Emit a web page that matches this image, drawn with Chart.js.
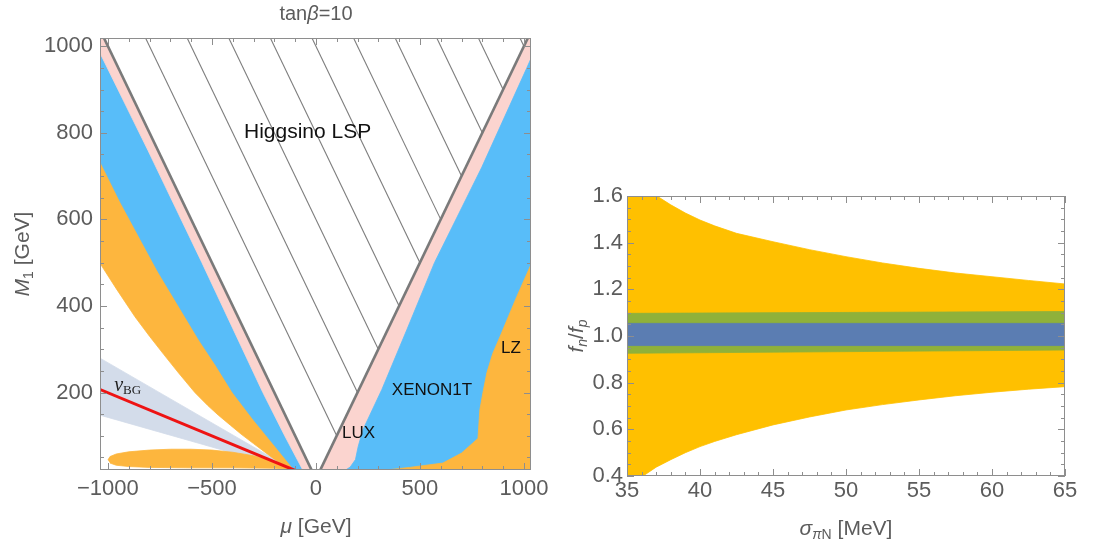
<!DOCTYPE html>
<html>
<head>
<meta charset="utf-8">
<script src="https://cdn.jsdelivr.net/npm/chart.js@4.4.1/dist/chart.umd.min.js"></script>
<style>
  html, body { margin: 0; padding: 0; background: #fff; }
  #wrap { position: relative; width: 1103px; height: 550px; overflow: hidden; }
  #left { position: absolute; left: 0; top: 0; }
  #right { position: absolute; left: 560px; top: 0; }
</style>
</head>
<body>
<div id="wrap">
  <canvas id="left" width="560" height="550"></canvas>
  <canvas id="right" width="543" height="550"></canvas>
</div>
<script>
// ---- left panel: tan(beta)=10, mu vs M1 [GeV] ----
const muTicks = [-1000, -500, 0, 500, 1000];
const m1Ticks = [200, 400, 600, 800, 1000];

// neutrino background band + line
const nuBgBand = [[-1040, 280], [-105, 20], [-1040, 148]];
const nuBgLine = [[-1040, 207.5], [-100, 20]];

// LZ (orange) fan on the negative mu side, outer edge then back along mu=-M1
const lzLeft = [[-1045, 505], [-1040, 500], [-960, 440], [-870, 375], [-800, 330], [-730, 287], [-660, 245],
  [-582, 200], [-520, 170], [-470, 148], [-410, 124], [-360, 104], [-300, 82], [-250, 64], [-200, 46],
  [-160, 33], [-110, 20], [-20, 20], [-1045, 1045]];
// LZ blob along the bottom
const lzBlob = [[-1000, 44], [-990, 52], [-960, 58], [-900, 63], [-800, 67], [-700, 69], [-600, 69], [-500, 67],
  [-400, 62], [-300, 54], [-220, 44], [-160, 33], [-120, 23], [-200, 25], [-400, 26], [-600, 26], [-800, 27],
  [-900, 29], [-960, 32], [-990, 37]];
// XENON1T (blue) negative side
const xenonLeft = [[-1045, 741], [-1040, 737], [-940, 640], [-850, 560], [-760, 480], [-660, 400], [-560, 320],
  [-480, 262], [-400, 200], [-300, 137], [-200, 78], [-117, 29], [-105, 20], [-20, 20], [-1045, 1045]];
// LUX (pink) negative side
const luxLeft = [[-1045, 991], [-808, 760], [-548, 500], [-255, 200], [-150, 100], [-62, 20], [-20, 20], [-1045, 1045]];

// positive side
const luxRight = [[20, 20], [1045, 1045], [1045, 20]];
const xenonRight = [[140, 20], [165, 28], [190, 45], [203, 75], [226, 114], [317, 207], [437, 345], [570, 500],
  [796, 719], [1014, 950], [1060, 1000], [1060, 20]];
const lzRight = [[322, 20], [450, 27], [610, 37], [700, 60], [779, 94], [788, 160], [805, 205], [822, 246],
  [850, 290], [885, 329], [925, 375], [966, 422], [1038, 500], [1060, 545], [1060, 20]];

// Higgsino LSP boundaries |mu| = M1 and the hatching inside
const edgeLeft = [[-20, 20], [-1045, 1045]];
const edgeRight = [[20, 20], [1045, 1045]];
const hatch = [
  [[-840, 1040], [100, 100]], [[-640, 1040], [200, 200]], [[-440, 1040], [300, 300]],
  [[-240, 1040], [400, 400]], [[-40, 1040], [500, 500]], [[160, 1040], [600, 600]],
  [[360, 1040], [700, 700]], [[560, 1040], [800, 800]], [[760, 1040], [900, 900]],
  [[960, 1040], [1000, 1000]]
];

// ---- right panel: fn/fp vs sigma_piN ----
const sigmaTicks = [35, 40, 45, 50, 55, 60, 65];
const ratioTicks = [0.4, 0.6, 0.8, 1.0, 1.2, 1.4, 1.6];
const yellowUpper = [[35, 1.72], [36, 1.655], [37.05, 1.6], [38, 1.562], [39, 1.527], [40, 1.497], [41, 1.472],
  [42.5, 1.44], [45, 1.404], [47.5, 1.37], [50, 1.34], [52.5, 1.313], [55, 1.29], [57.5, 1.27], [60, 1.254],
  [62.5, 1.238], [65, 1.223]];
const yellowLower = [[35, 0.35], [36.1, 0.4], [37, 0.438], [38, 0.47], [39, 0.5], [40, 0.526], [41, 0.548],
  [42.5, 0.577], [45, 0.619], [47.5, 0.653], [50, 0.683], [52.5, 0.706], [55, 0.726], [57.5, 0.744],
  [60, 0.759], [62.5, 0.772], [65, 0.783]];
const greenBand = [[35, 1.097], [65, 1.105], [65, 0.94], [35, 0.926]];
const blueBand = [[35, 1.054], [65, 1.054], [65, 0.959], [35, 0.959]];

const SANS = "'Liberation Sans', Arial, Helvetica, sans-serif";
const SERIF = "'Liberation Serif', 'DejaVu Serif', serif";
const GRAY_TXT = "#5c5c5c";

function poly(data, color) {
  return { data, showLine: true, fill: "shape", backgroundColor: color, borderColor: color,
    borderWidth: 0.8, pointRadius: 0, tension: 0 };
}
function line(data, color, width) {
  return { data, showLine: true, fill: false, borderColor: color, borderWidth: width, pointRadius: 0, tension: 0 };
}
function stack(list) {
  // later entries on top
  list.forEach((d, i) => (d.order = -i));
  return list;
}

// text with mixed fonts, centred at x, baseline y
function rich(ctx, parts, x, y, rot, color) {
  ctx.save();
  ctx.translate(x, y);
  if (rot) ctx.rotate(rot);
  ctx.fillStyle = color;
  ctx.textAlign = "left";
  ctx.textBaseline = "alphabetic";
  let w = 0;
  parts.forEach((p) => { ctx.font = p.f; w += ctx.measureText(p.t).width; });
  let cx = -w / 2;
  parts.forEach((p) => {
    ctx.font = p.f;
    ctx.fillText(p.t, cx, p.dy || 0);
    cx += ctx.measureText(p.t).width;
  });
  ctx.restore();
}

function frameTicks(chart, xMajor, xMinor, yMajor, yMinor) {
  const { ctx, chartArea: a, scales } = chart;
  ctx.save();
  ctx.strokeStyle = "#8e8e8e";
  ctx.lineWidth = 1;
  ctx.beginPath();
  const tick = (vals, len, isX) => {
    vals.forEach((v) => {
      if (isX) {
        const p = Math.round(scales.x.getPixelForValue(v)) + 0.5;
        ctx.moveTo(p, a.bottom); ctx.lineTo(p, a.bottom - len);
        ctx.moveTo(p, a.top); ctx.lineTo(p, a.top + len);
      } else {
        const p = Math.round(scales.y.getPixelForValue(v)) + 0.5;
        ctx.moveTo(a.left, p); ctx.lineTo(a.left + len, p);
        ctx.moveTo(a.right, p); ctx.lineTo(a.right - len, p);
      }
    });
  };
  tick(xMajor, 7, true); tick(xMinor, 4, true);
  tick(yMajor, 7, false); tick(yMinor, 4, false);
  ctx.stroke();
  ctx.strokeRect(a.left + 0.5, a.top + 0.5, a.right - a.left - 1, a.bottom - a.top - 1);
  ctx.restore();
}

function range(from, to, step, scale) {
  const out = [];
  for (let i = Math.round(from * scale); i <= Math.round(to * scale); i += Math.round(step * scale)) out.push(i / scale);
  return out;
}

function axisOpts(min, max, tickVals, pad, size, fmt, fit) {
  return {
    type: "linear", min, max,
    grid: { display: false, drawTicks: false },
    border: { display: false },
    afterBuildTicks: (s) => { s.ticks = tickVals.map((v) => ({ value: v })); },
    afterFit: fit,
    ticks: { padding: pad, autoSkip: false, maxRotation: 0, color: GRAY_TXT,
      font: { family: SANS, size }, callback: fmt },
  };
}

const minusFmt = (v) => (v < 0 ? "\u2212" + Math.abs(v) : String(v));

// ---- left chart ----
new Chart(document.getElementById("left"), {
  type: "scatter",
  data: {
    datasets: stack([
      poly(nuBgBand, "#d3dcea"),
      poly(lzLeft, "#fdb63e"),
      poly(lzBlob, "#fdb63e"),
      poly(xenonLeft, "#58bdf9"),
      poly(luxLeft, "#fbd4cf"),
      poly(luxRight, "#fbd4cf"),
      poly(xenonRight, "#58bdf9"),
      poly(lzRight, "#fdb63e"),
      ...hatch.map((h) => line(h, "#7d7d7d", 1.1)),
      line(edgeLeft, "#7a7a7a", 2.6),
      line(edgeRight, "#7a7a7a", 2.6),
      line(nuBgLine, "#ee1313", 3),
    ]),
  },
  options: {
    responsive: false, animation: false, events: [],
    layout: { padding: { top: 38, right: 29, left: 0, bottom: 0 } },
    plugins: { legend: { display: false }, tooltip: { enabled: false } },
    scales: {
      x: axisOpts(-1038, 1034, muTicks, 6, 22, minusFmt, (s) => { s.height = 80; }),
      y: axisOpts(21, 1019, m1Ticks, 7, 22, minusFmt, (s) => { s.width = 100; }),
    },
  },
  plugins: [{
    id: "leftDeco",
    afterDraw(chart) {
      const { ctx, scales } = chart;
      frameTicks(chart, muTicks, range(-1000, 1000, 100, 1), m1Ticks, range(50, 1000, 50, 1));
      const px = (v) => scales.x.getPixelForValue(v);
      const py = (v) => scales.y.getPixelForValue(v);
      const f = (s, it) => (it ? "italic " : "") + s + "px " + SANS;
      rich(ctx, [{ t: "tan", f: f(20) }, { t: "\u03b2", f: f(20, 1) }, { t: "=10", f: f(20) }], 316, 20, 0, GRAY_TXT);
      rich(ctx, [{ t: "\u03bc", f: f(21, 1) }, { t: " [GeV]", f: f(21) }], 316, 533, 0, GRAY_TXT);
      rich(ctx, [{ t: "M", f: f(21, 1) }, { t: "1", f: f(14), dy: 4 }, { t: " [GeV]", f: f(21) }],
        29, 254, -Math.PI / 2, GRAY_TXT);
      rich(ctx, [{ t: "Higgsino LSP", f: f(21) }], px(-40), py(807) + 8, 0, "#111");
      rich(ctx, [{ t: "XENON1T", f: f(17) }], px(558), py(209) + 6, 0, "#111");
      rich(ctx, [{ t: "LUX", f: f(17) }], px(205), py(109) + 6, 0, "#111");
      rich(ctx, [{ t: "LZ", f: f(17) }], px(938), py(306) + 6, 0, "#111");
      rich(ctx, [{ t: "\u03bd", f: "italic 20px " + SERIF }, { t: "BG", f: "13px " + SERIF, dy: 3 }],
        px(-905), py(214) + 5, 0, "#222");
    },
  }],
});

// ---- right chart ----
new Chart(document.getElementById("right"), {
  type: "scatter",
  data: {
    datasets: stack([
      poly(yellowUpper.concat(yellowLower.slice().reverse()), "#ffc000"),
      poly(greenBand, "#8fb13a"),
      poly(blueBand, "#5b7db2"),
    ]),
  },
  options: {
    responsive: false, animation: false, events: [],
    layout: { padding: { top: 196, right: 38, left: 0, bottom: 0 } },
    plugins: { legend: { display: false }, tooltip: { enabled: false } },
    scales: {
      x: axisOpts(35, 65, sigmaTicks, 2, 22, (v) => String(v), (s) => { s.height = 74; }),
      y: axisOpts(0.4, 1.6, ratioTicks, 4, 22, (v) => v.toFixed(1), (s) => { s.width = 67; }),
    },
  },
  plugins: [{
    id: "rightDeco",
    afterDraw(chart) {
      const { ctx } = chart;
      frameTicks(chart, sigmaTicks, range(35, 65, 1, 1), ratioTicks, range(0.4, 1.6, 0.05, 100));
      const f = (s, it) => (it ? "italic " : "") + s + "px " + SANS;
      rich(ctx, [{ t: "\u03c3", f: f(21, 1) }, { t: "\u03c0", f: f(14, 1), dy: 4 }, { t: "N", f: f(14), dy: 4 },
        { t: " [MeV]", f: f(21) }], 286, 535, 0, GRAY_TXT);
      rich(ctx, [{ t: "f", f: f(21, 1) }, { t: "n", f: f(14, 1), dy: 4 }, { t: "/", f: f(21) },
        { t: "f", f: f(21, 1) }, { t: "p", f: f(14, 1), dy: 4 }], 23, 336, -Math.PI / 2, GRAY_TXT);
    },
  }],
});
</script>
</body>
</html>
